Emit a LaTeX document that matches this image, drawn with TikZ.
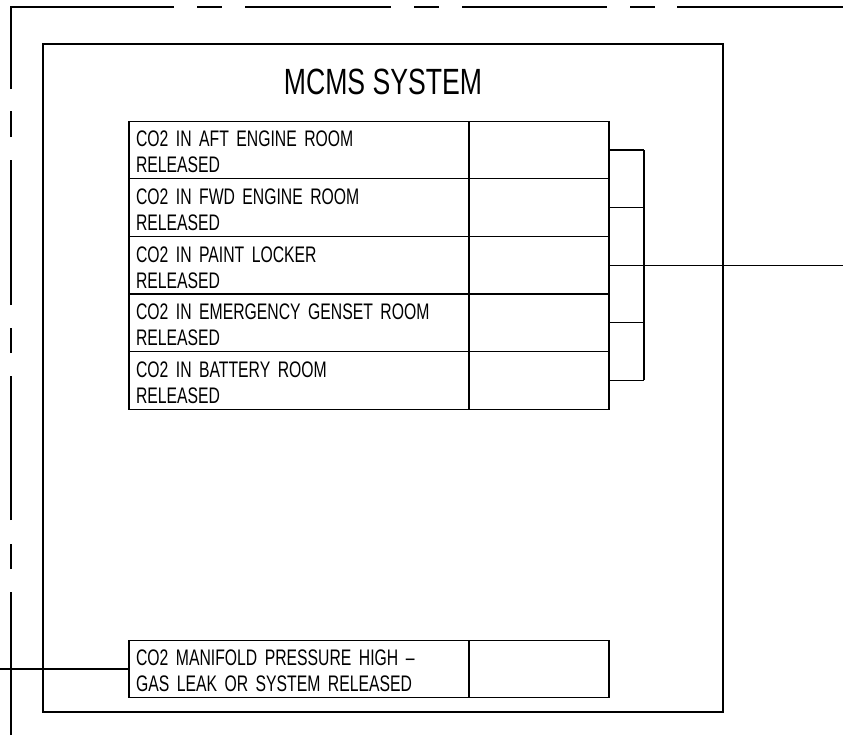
\documentclass[tikz,border=0pt]{standalone}
\usepackage{fontspec}
\setmainfont{Liberation Sans}[FakeStretch=0.73]
\newfontfamily\rowfont{Liberation Sans}[FakeStretch=0.70, Ligatures=TeX]
\begin{document}
\begin{tikzpicture}[x=1pt, y=-1pt, line width=1.2pt,
    alarm/.style={draw, minimum width=340pt, minimum height=57.6pt, text width=326pt, inner xsep=7pt, inner ysep=0pt,
        align=left, text height=20pt, font=\rowfont\fontsize{22.5}{26}\selectfont},
    ack/.style={draw, minimum width=140pt, minimum height=57.6pt, inner sep=0pt}]
            \useasboundingbox (0,0) rectangle (843,742);

            % dashed border of the bridge console
            \draw[dash pattern=on 143pt off 23pt on 25pt off 24pt on 144pt off 23pt on 25pt off 23pt
                on 145pt off 23pt on 26pt off 22pt on 245pt off 23pt on 25pt off 23pt on 146pt off 23pt
                on 25pt off 23pt on 145pt off 23pt on 25pt off 22pt on 300pt]
                (11,735) -- (11,7) -- (843,7);

            \node(panel) at (383,378) [draw, minimum width=680pt, minimum height=668pt] {};
            \node(title) at (383,81.5) [font=\fontsize{36.5}{40}\selectfont] {MCMS SYSTEM};

            \node(alarm1) at (299,150.0) [alarm] {CO2 IN AFT ENGINE ROOM\\RELEASED};
            \node(ack1) at (539,150.0) [ack] {};
            \node(alarm2) at (299,207.6) [alarm] {CO2 IN FWD ENGINE ROOM\\RELEASED};
            \node(ack2) at (539,207.6) [ack] {};
            \node(alarm3) at (299,265.2) [alarm] {CO2 IN PAINT LOCKER\\RELEASED};
            \node(ack3) at (539,265.2) [ack] {};
            \node(alarm4) at (299,322.8) [alarm] {CO2 IN EMERGENCY GENSET ROOM\\RELEASED};
            \node(ack4) at (539,322.8) [ack] {};
            \node(alarm5) at (299,380.4) [alarm] {CO2 IN BATTERY ROOM\\RELEASED};
            \node(ack5) at (539,380.4) [ack] {};

            \node(manifold) at (299,669.0) [alarm] {CO2 MANIFOLD PRESSURE HIGH --\\GAS LEAK OR SYSTEM RELEASED};
            \node(manifold_ack) at (539,669.0) [ack] {};

            % common alarm bus
            \coordinate(bus) at (644,0);
            \coordinate(out) at (843,265.2);
            \coordinate(feed) at (0,669.0);

            \draw (ack1.east) -- (ack1.east -| bus);
            \draw (ack2.east) -- (ack2.east -| bus);
            \draw (ack3.east) -- (ack3.east -| bus);
            \draw (ack4.east) -- (ack4.east -| bus);
            \draw (ack5.east) -- (ack5.east -| bus);
            \draw (ack1.east -| bus) -- (ack5.east -| bus);
            \draw (ack3.east -| bus) -- (out);
            \draw (feed) -- (manifold.west);
        \end{tikzpicture}
\end{document}
